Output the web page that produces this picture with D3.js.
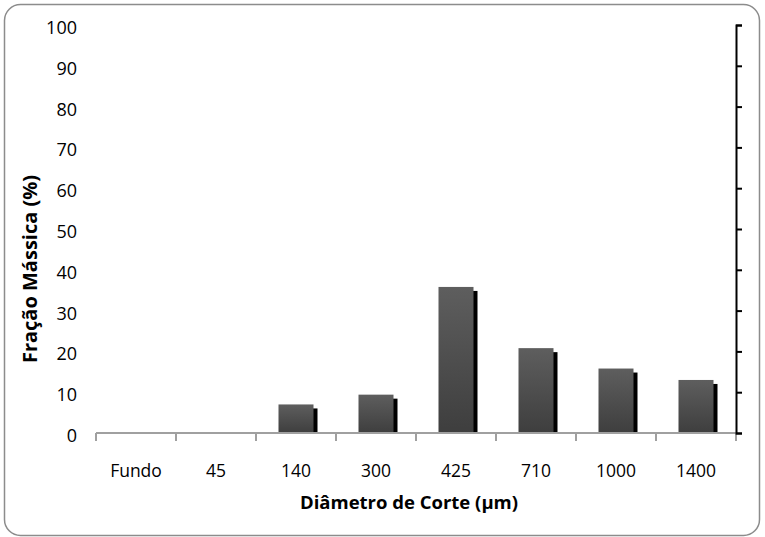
<!DOCTYPE html>
<html>
<head>
<meta charset="utf-8">
<script src="https://cdn.jsdelivr.net/npm/d3@7"></script>
<style>
  body { margin: 0; background: #fff; }
  text { font-family: 'Open Sans', sans-serif; fill: #000; }
</style>
</head>
<body>
<svg id="chart" width="765" height="537"></svg>
<script>
const categories = ['Fundo', '45', '140', '300', '425', '710', '1000', '1400']
const fractions = [0, 0, 7, 9.4, 35.8, 20.8, 15.8, 13]
const yTicks = [0, 10, 20, 30, 40, 50, 60, 70, 80, 90, 100]

const margin = { top: 25, left: 96, right: 29, bottom: 104 }
const width = 765 - margin.left - margin.right
const height = 537 - margin.top - margin.bottom

const svg = d3.select('#chart')

// outer frame
svg.append('rect')
  .attr('x', 4.5).attr('y', 4.5)
  .attr('width', 755).attr('height', 531)
  .attr('rx', 16)
  .attr('fill', 'none')
  .attr('stroke', '#8c8c8c')
  .attr('stroke-width', 1.5)

const defs = svg.append('defs')
const grad = defs.append('linearGradient')
  .attr('id', 'barGrad')
  .attr('x1', 0).attr('y1', 0).attr('x2', 0).attr('y2', 1)
grad.append('stop').attr('offset', '0%').attr('stop-color', '#5e5e5e')
grad.append('stop').attr('offset', '100%').attr('stop-color', '#3e3e3e')

const g = svg.append('g')
  .attr('transform', 'translate(' + margin.left + ',' + margin.top + ')')

const x = d3.scaleBand().domain(categories).range([0, width]).padding(0)
const y = d3.scaleLinear().domain([0, 100]).range([height, 0])

const barW = 35
const data = categories.map((c, i) => ({ cat: c, value: fractions[i] }))

// shadow bars
g.selectAll('.shadow')
  .data(data.filter(d => d.value > 0))
  .enter()
  .append('rect')
  .attr('class', 'shadow')
  .attr('x', d => x(d.cat) + (x.bandwidth() - barW) / 2 + 4)
  .attr('y', d => y(d.value) + 4)
  .attr('width', barW)
  .attr('height', d => height - y(d.value) - 4)
  .attr('fill', '#000')

g.selectAll('.bar')
  .data(data.filter(d => d.value > 0))
  .enter()
  .append('rect')
  .attr('class', 'bar')
  .attr('x', d => x(d.cat) + (x.bandwidth() - barW) / 2)
  .attr('y', d => y(d.value))
  .attr('width', barW)
  .attr('height', d => height - y(d.value))
  .attr('fill', 'url(#barGrad)')

// x axis line + boundary ticks
g.append('line')
  .attr('x1', 0).attr('x2', width)
  .attr('y1', height).attr('y2', height)
  .attr('stroke', '#a0a0a0').attr('stroke-width', 2)

const bounds = categories.map(c => x(c)).concat([width])
g.selectAll('.xtick')
  .data(bounds)
  .enter()
  .append('line')
  .attr('x1', d => d).attr('x2', d => d)
  .attr('y1', height).attr('y2', height + 8)
  .attr('stroke', '#a0a0a0').attr('stroke-width', 2)

g.selectAll('.xlabel')
  .data(categories)
  .enter()
  .append('text')
  .attr('x', d => x(d) + x.bandwidth() / 2)
  .attr('y', height + 44)
  .attr('text-anchor', 'middle')
  .attr('font-size', 17.5)
  .text(d => d)

// left labels (no axis line)
g.selectAll('.ylabel')
  .data(yTicks)
  .enter()
  .append('text')
  .attr('x', -19)
  .attr('y', d => y(d) + 9)
  .attr('text-anchor', 'end')
  .attr('font-size', 18)
  .text(d => d)

// right axis
const right = g.append('g')
  .attr('transform', 'translate(' + width + ',0)')
  .call(d3.axisRight(y).tickValues(yTicks).tickSize(6).tickFormat(''))
right.select('.domain').attr('stroke', '#000').attr('stroke-width', 2)
right.selectAll('.tick line').attr('stroke', '#000').attr('stroke-width', 2)

// titles
svg.append('text')
  .attr('x', 409)
  .attr('y', 509)
  .attr('text-anchor', 'middle')
  .attr('font-size', 18.5)
  .attr('font-weight', 'bold')
  .text('Diâmetro de Corte (µm)')

svg.append('text')
  .attr('transform', 'translate(37,269) rotate(-90)')
  .attr('text-anchor', 'middle')
  .attr('font-size', 20)
  .attr('font-weight', 'bold')
  .text('Fração Mássica (%)')
</script>
</body>
</html>
